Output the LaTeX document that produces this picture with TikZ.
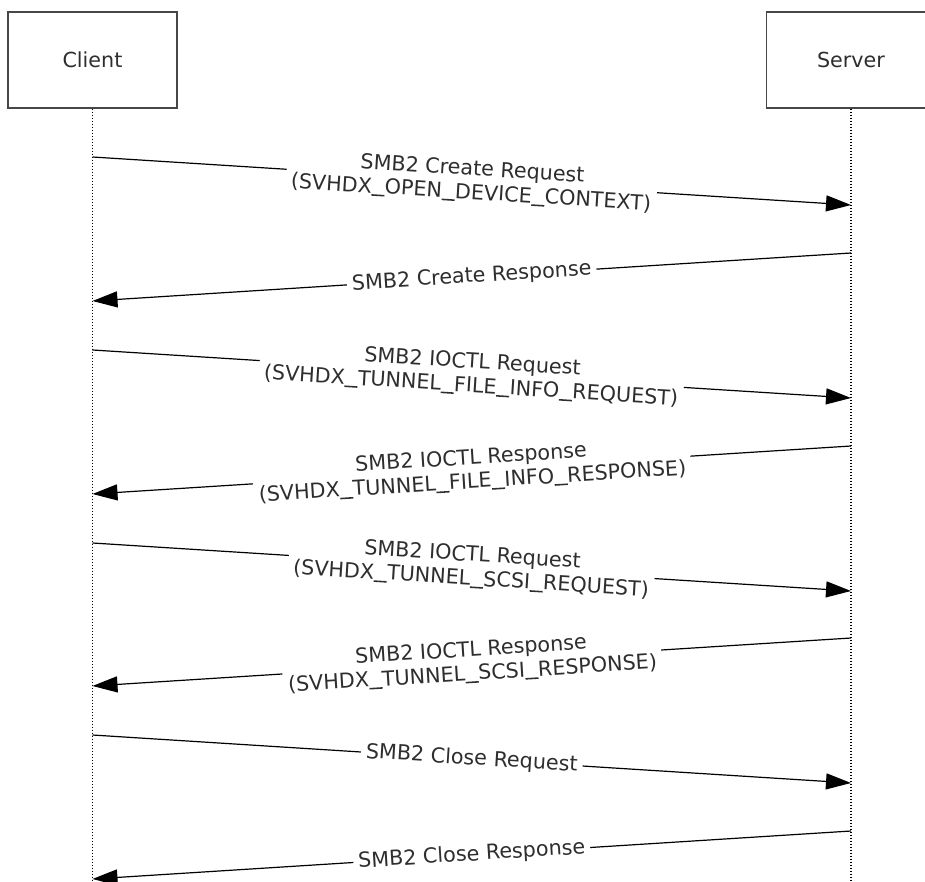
\documentclass[tikz,border=0pt]{standalone}
\usepackage{fontspec}
\setmainfont{DejaVu Sans}
\usetikzlibrary{arrows.meta}
\newcommand\wus{\rule[-0.13em]{0.63em}{0.075em}}
\tikzset{
  txt/.style={font=\fontsize{20.7}{24}\selectfont, text=black!82},
  actor/.style={txt, draw=black!72, line width=1.4pt, minimum width=169pt, minimum height=96pt, inner sep=0pt},
  lifeline/.style={line width=1.4pt, dash pattern=on 1.2pt off 1.8pt},
  msg/.style={line width=1.2pt, -{Triangle[length=25pt,width=16pt]}},
  lbl/.style={txt, sloped, fill=white, inner xsep=5pt, inner ysep=1pt, align=center}
}
\begin{document}
\begin{tikzpicture}[x=1pt, y=-1pt]
\useasboundingbox (0,0) rectangle (925,882);
\clip (0,0) rectangle (925,882);
\node[actor] (client) at (92.5,60) {Client};
\node[actor] (server) at (851,60) {Server};
\coordinate (cEnd) at (92.5,882);
\coordinate (sEnd) at (851,882);
\draw[lifeline] (client.south) -- (cEnd);
\draw[lifeline] (server.south) -- (sEnd);
% lifeline points
\foreach \n/\y in {1/157,2/205,3/253,4/301,5/350,6/398,7/446,8/494,9/543,10/591,11/638,12/686,13/735,14/783,15/831,16/879}{
  \coordinate (c\n) at (92.5,\y);
  \coordinate (s\n) at (851,\y);
}
\draw[msg] (c1) -- node[lbl] {SMB2 Create Request\\(SVHDX\wus OPEN\wus DEVICE\wus CONTEXT)} (s2);
\draw[msg] (s3) -- node[lbl] {SMB2 Create Response} (c4);
\draw[msg] (c5) -- node[lbl] {SMB2 IOCTL Request\\(SVHDX\wus TUNNEL\wus FILE\wus INFO\wus REQUEST)} (s6);
\draw[msg] (s7) -- node[lbl] {SMB2 IOCTL Response\\(SVHDX\wus TUNNEL\wus FILE\wus INFO\wus RESPONSE)} (c8);
\draw[msg] (c9) -- node[lbl] {SMB2 IOCTL Request\\(SVHDX\wus TUNNEL\wus SCSI\wus REQUEST)} (s10);
\draw[msg] (s11) -- node[lbl] {SMB2 IOCTL Response\\(SVHDX\wus TUNNEL\wus SCSI\wus RESPONSE)} (c12);
\draw[msg] (c13) -- node[lbl] {SMB2 Close Request} (s14);
\draw[msg] (s15) -- node[lbl] {SMB2 Close Response} (c16);
\end{tikzpicture}
\end{document}
